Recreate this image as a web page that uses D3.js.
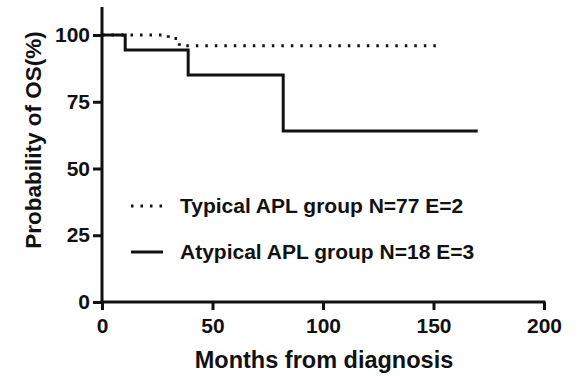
<!DOCTYPE html>
<html>
<head>
<meta charset="utf-8">
<script src="https://cdn.jsdelivr.net/npm/d3@7"></script>
<style>
  body { margin: 0; background: #fff; }
  text { font-family: "Liberation Sans", Arial, sans-serif; font-weight: bold; fill: #111; }
</style>
</head>
<body>
<svg id="chart"></svg>
<script>
// Kaplan-Meier step points: [month, survival %]
const typicalSteps = [[0, 100], [30, 98.7], [35, 96], [153, 96]];
const atypicalSteps = [[0, 100], [10.5, 94.4], [39, 85], [82, 64], [170, 64]];
const xTicks = [0, 50, 100, 150, 200];
const yTicks = [0, 25, 50, 75, 100];
const legendLabels = ["Typical APL group N=77 E=2", "Atypical APL group N=18 E=3"];

const width = 580, height = 376;
const svg = d3.select("#chart").attr("width", width).attr("height", height);

const x = d3.scaleLinear().domain([0, 200]).range([102, 544]);
const y = d3.scaleLinear().domain([0, 100]).range([302, 35]);

// axes
const xAxis = svg.append("g")
  .attr("transform", `translate(0,${y(0)})`)
  .call(d3.axisBottom(x).tickValues(xTicks).tickSize(8).tickSizeOuter(0).tickPadding(8));

const yAxis = svg.append("g")
  .attr("transform", `translate(${x(0)},0)`)
  .call(d3.axisLeft(y).tickValues(yTicks).tickSize(9).tickSizeOuter(0).tickPadding(3));

// extend y axis line up past 100
yAxis.select(".domain").attr("d", `M0,${y(0) + 2}V${y(110.5)}`);

[xAxis, yAxis].forEach(g => {
  g.selectAll("path, line").attr("stroke", "#111").attr("stroke-width", 3);
  g.selectAll("text").style("font-size", "21px").attr("fill", "#111");
});
xAxis.select(".domain").attr("d", `M${x(0) - 1.5},0H${x(200) + 1.5}`);

// curves
const line = d3.line()
  .x(d => x(d[0]))
  .y(d => y(d[1]))
  .curve(d3.curveStepAfter);

svg.append("path")
  .datum(atypicalSteps)
  .attr("d", line)
  .attr("fill", "none")
  .attr("stroke", "#111")
  .attr("stroke-width", 3);

svg.append("path")
  .datum(typicalSteps)
  .attr("d", line)
  .attr("fill", "none")
  .attr("stroke", "#111")
  .attr("stroke-width", 3)
  .attr("stroke-dasharray", "2.5,7");

// legend
const legend = svg.append("g");
legendLabels.forEach((lab, i) => {
  const ly = 206 + i * 46;
  legend.append("line")
    .attr("x1", 131).attr("x2", 163)
    .attr("y1", ly).attr("y2", ly)
    .attr("stroke", "#111")
    .attr("stroke-width", 3)
    .attr("stroke-dasharray", i === 0 ? "2.5,7" : null);
  legend.append("text")
    .attr("x", 180).attr("y", ly + 7)
    .style("font-size", "21px")
    .text(lab);
});

// axis titles
svg.append("text")
  .attr("x", 324).attr("y", 368)
  .attr("text-anchor", "middle")
  .style("font-size", "23.5px")
  .text("Months from diagnosis");

svg.append("text")
  .attr("transform", `translate(41,140) rotate(-90)`)
  .attr("text-anchor", "middle")
  .style("font-size", "22.5px")
  .text("Probability of OS(%)");
</script>
</body>
</html>
